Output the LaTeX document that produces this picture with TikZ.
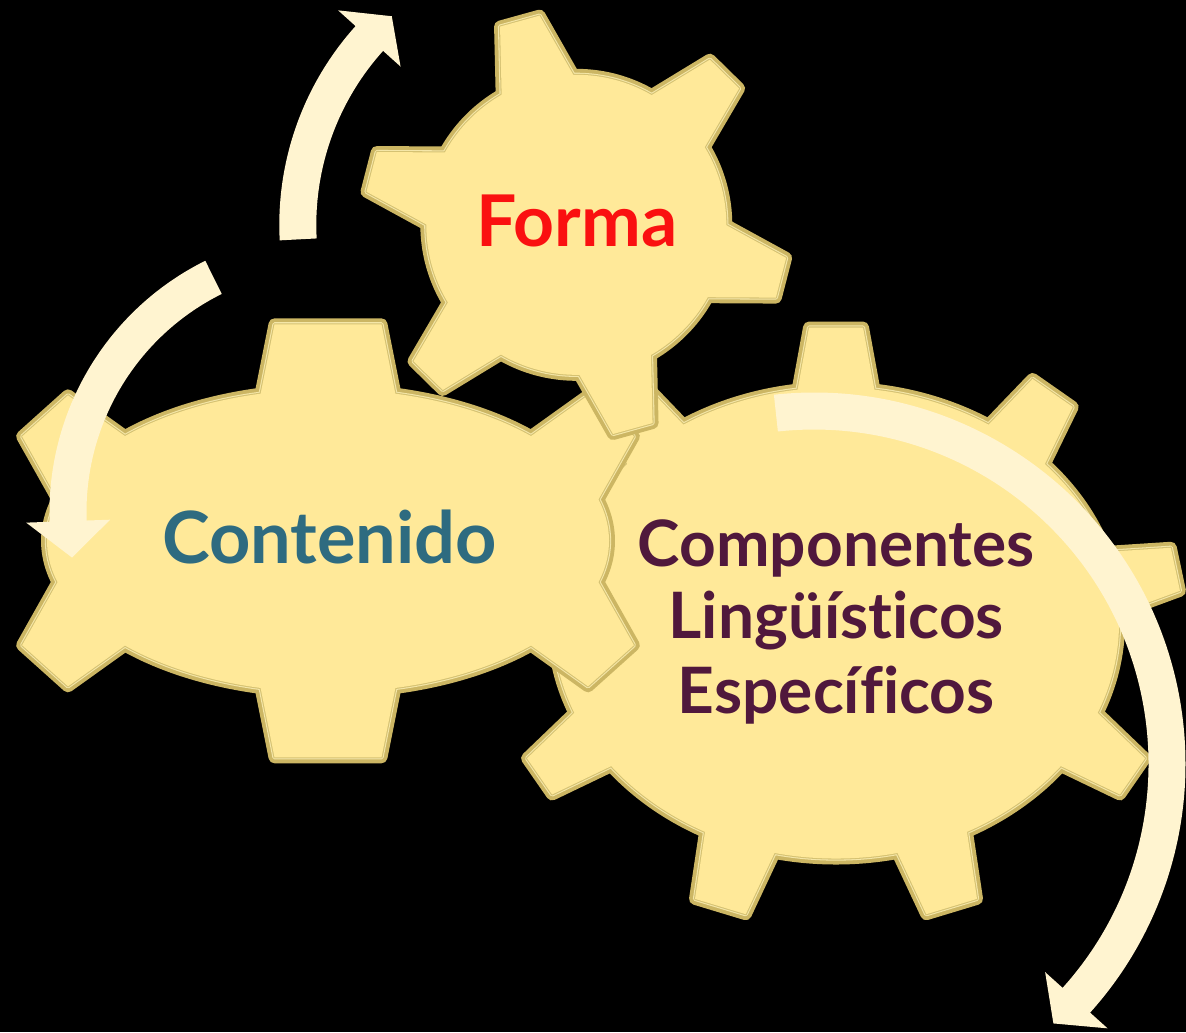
\documentclass[tikz,border=0pt]{standalone}
\usepackage{fontspec}
\setmainfont{Lato}[Ligatures=NoCommon]
\usetikzlibrary{calc}

\definecolor{gearfill}{HTML}{FFE999}
\definecolor{rimdark}{HTML}{CCB663}
\definecolor{rimlight}{HTML}{F5E7A8}
\definecolor{rimthin}{HTML}{D5C273}
\definecolor{arrowcream}{HTML}{FFF4D0}
\definecolor{formared}{HTML}{FA1010}
\definecolor{contenidoblue}{HTML}{2E6B80}
\definecolor{componentesplum}{HTML}{50183C}

% gear: centre x, centre y (px, downwards), radii, teeth angle/base/tip/height
\newcommand\gearwheel[5]{%
  \foreach \st in {rim dark,rim light,rim thin,gear body}{
    \begin{scope}[shift={(#1,-#2)}]
      \path[\st] (0,0) ellipse [x radius=#3, y radius=#4];
      \foreach \tang/\wbase/\wtip/\thgt in {#5}{
        \pgfmathsetmacro\bx{#3*cos(\tang)}
        \pgfmathsetmacro\by{#4*sin(\tang)}
        \pgfmathsetmacro\nlen{veclen(#4*cos(\tang),#3*sin(\tang))}
        \pgfmathsetmacro\nx{#4*cos(\tang)/\nlen}
        \pgfmathsetmacro\ny{#3*sin(\tang)/\nlen}
        \pgfmathsetmacro\wdeep{\wtip+1.5*(\wbase-\wtip)}
        \path[\st] ({\bx+\thgt*\nx-\wtip*\ny},{\by+\thgt*\ny+\wtip*\nx})
          -- ({\bx+\thgt*\nx+\wtip*\ny},{\by+\thgt*\ny-\wtip*\nx})
          -- ({\bx-0.5*\thgt*\nx+\wdeep*\ny},{\by-0.5*\thgt*\ny-\wdeep*\nx})
          -- ({\bx-0.5*\thgt*\nx-\wdeep*\ny},{\by-0.5*\thgt*\ny+\wdeep*\nx})
          -- cycle;
      }
    \end{scope}
  }
}

% circular arrow: centre x, centre y, radius, start, end of shaft, tip angle
\newcommand\turnarrow[6]{%
  \begin{scope}[shift={(#1,-#2)}]
    \pgfmathsetmacro\ro{#3+18.5}
    \pgfmathsetmacro\ri{#3-18.5}
    \pgfmathsetmacro\bo{#3+42}
    \pgfmathsetmacro\bi{#3-42}
    \fill[arrow body] (#4:\ro) arc[start angle=#4, end angle=#5, radius=\ro]
      -- (#5:\bo) -- (#6:#3) -- (#5:\bi) -- (#5:\ri)
      arc[start angle=#5, end angle=#4, radius=\ri] -- cycle;
  \end{scope}
}

\begin{document}
\begin{tikzpicture}[x=0.01cm, y=0.01cm,
  rim dark/.style={draw=rimdark, line width=3.4pt, line join=round},
  rim light/.style={draw=rimlight, line width=1.2pt, line join=round},
  rim thin/.style={draw=rimthin, line width=0.6pt, line join=round},
  gear body/.style={fill=gearfill},
  arrow body/.style={fill=arrowcream},
  gear text/.style={anchor=base, inner sep=0pt}]

  \fill[black] (0,0) rectangle (1186,-1032);
  \useasboundingbox (0,0) rectangle (1186,-1032);
  \clip (0,0) rectangle (1186,-1032);

  % gears, back to front
  \gearwheel{836}{623}{283}{235.5}{90/38/27/60, 50/34/24.5/60.6, 130/34/24.5/60.6,
    10/31/22/62, 170/31/22/62, -30/32/22/62.5, -150/32/22/62.5,
    -70/36/26.5/65, -110/36/26.5/65}
  \gearwheel{328}{540.8}{281}{151.5}{90/66.5/53.5/65, -90/66.5/53.5/65,
    31/44.8/30.8/63, 149/44.8/30.8/63, -31/44.8/30.8/63, -149/44.8/30.8/63}
  \gearwheel{576.3}{224.8}{150}{150}{105.5/36/20.5/61.4, 45.5/36/20.5/61.4,
    -14.5/36/20.5/61.4, -74.5/36/20.5/61.4, -134.5/36/20.5/61.4, 165.5/36/20.5/61.4}

  % arrows
  \turnarrow{576.3}{224.8}{278.5}{183}{138}{131.5}
  \turnarrow{330}{512}{262}{116.4}{182}{190}
  \turnarrow{814}{764}{353}{96.2}{-42}{-47.3}

  % texts
  \node[gear text, text=formared, font=\bfseries\fontsize{20.3pt}{24pt}\selectfont]
    (forma) at (576.7,-246.7) {Forma};
  \node[gear text, text=contenidoblue, font=\bfseries\fontsize{20.5pt}{24pt}\selectfont]
    (contenido) at (329.5,-563.3) {Contenido};
  \node[gear text, text=componentesplum, font=\bfseries\fontsize{18.2pt}{22pt}\selectfont]
    (comp1) at (836.2,-566) {Componentes};
  \node[gear text, text=componentesplum, font=\bfseries\fontsize{18.2pt}{22pt}\selectfont]
    (comp2) at (836.2,-638.5) {Lingüísticos};
  \node[gear text, text=componentesplum, font=\bfseries\fontsize{18.2pt}{22pt}\selectfont]
    (comp3) at (836.2,-713) {Específicos};
\end{tikzpicture}
\end{document}
